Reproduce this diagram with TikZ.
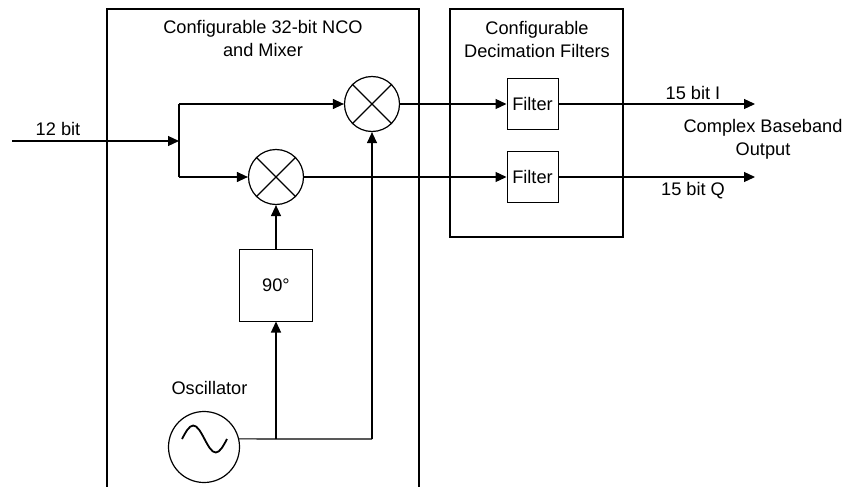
\documentclass[tikz,border=0pt]{standalone}
\usepackage{fontspec}
\setmainfont{Liberation Sans}
\usetikzlibrary{arrows.meta,calc}
\begin{document}
\begin{tikzpicture}[x=1pt,y=-1pt,
  font=\fontsize{18.2}{23}\selectfont,
  wire/.style={line width=1.2pt},
  arr/.style={wire,-{Triangle[length=11pt,width=10pt]}},
  container/.style={line width=2.8pt},
  blk/.style={draw,line width=1pt,inner sep=0pt},
  mixer/.style={draw,circle,line width=1.2pt,minimum size=55pt,inner sep=0pt},
  lbl/.style={inner sep=0pt,align=center}]
\useasboundingbox (0,0) rectangle (849,487);
% containers
\draw[container] (107,495) -- (107,9) -- (419,9) -- (419,495);
\node[draw,container,minimum width=173pt,minimum height=228pt,inner sep=0pt] (dec) at (536.5,123) {};
\node[lbl] (tA) at (263,38) {Configurable 32-bit NCO\\and Mixer};
\node[lbl] (tB) at (537,39) {Configurable\\Decimation Filters};
% mixers
\node[mixer] (mI) at (372,104) {};
\node[mixer] (mQ) at (276,177) {};
\foreach \m in {mI,mQ}{
  \draw[line width=1.2pt] (\m.45) -- (\m.225) (\m.135) -- (\m.315);
}
% filters
\node[blk,minimum size=51pt] (fI) at (532.5,104) {Filter};
\node[blk,minimum size=51pt] (fQ) at (532.5,177) {Filter};
% phase shift
\node[blk,minimum width=73pt,minimum height=72pt] (ph) at (276,285) {90°};
% oscillator
\node[draw,circle,line width=1.2pt,minimum size=71pt,inner sep=0pt] (osc) at (204,447) {};
\draw[line width=1.8pt] (182,439) sin (193.25,425.5) cos (204.5,439) sin (215.75,452.5) cos (227,439);
\node[lbl] (lo) at (209.5,388) {Oscillator};
% coordinates
\coordinate (in) at (12,141);
\coordinate (j) at (179,141);
\coordinate (jt) at (179,104);
\coordinate (jb) at (179,177);
\coordinate (oI) at (755,104);
\coordinate (oQ) at (755,177);
\coordinate (oj) at (276,439);
\coordinate (oc) at (372,439);
% wires
\draw[arr] (in) -- (j);
\node[lbl] (l12) at (58,129) {12 bit};
\draw[wire] (jt) -- (jb);
\draw[arr] (jt) -- (mI.west);
\draw[arr] (jb) -- (mQ.west);
\draw[arr] (mI.east) -- (fI.west);
\draw[arr] (mQ.east) -- (fQ.west);
\draw[arr] (fI.east) -- (oI);
\draw[arr] (fQ.east) -- (oQ);
\node[lbl] (lI) at (693,93) {15 bit I};
\node[lbl] (lQ) at (693,191) {15 bit Q};
\node[lbl,text depth=0pt] (lcb) at (763,137) {Complex Baseband\\Output};
\draw[arr] (ph.north) -- (mQ.south);
\draw[wire] (osc.13) -- (oc);
\draw[arr] (oj) -- (ph.south);
\draw[arr] (oc) -- (mI.south);
\end{tikzpicture}
\end{document}
